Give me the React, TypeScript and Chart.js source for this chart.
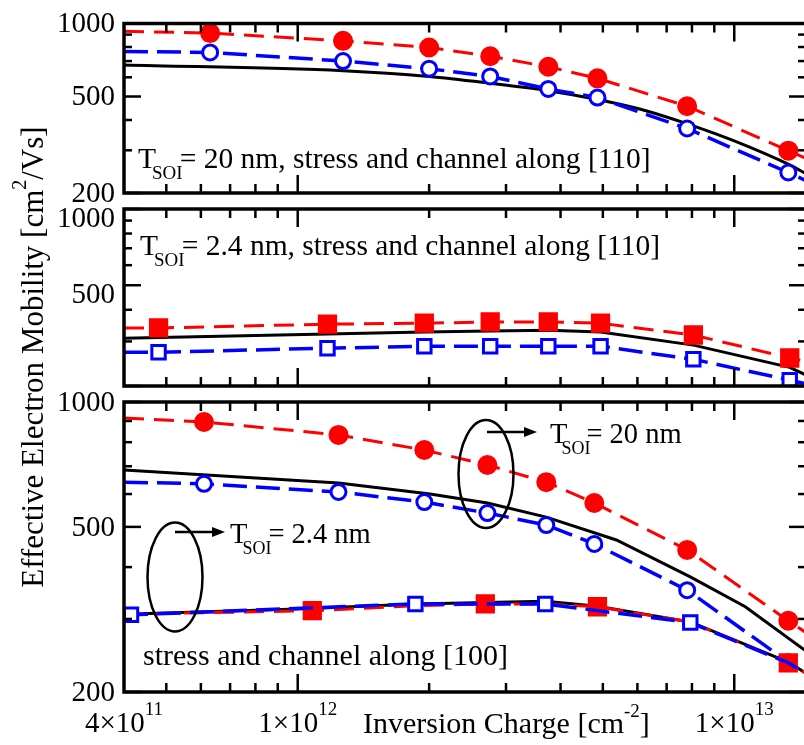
import React, { useEffect, useRef } from 'react';
import { Chart, registerables } from 'chart.js';
Chart.register(...registerables);

const FONT = '"Liberation Serif", "Times New Roman", Times, serif';
const X_MIN = 4e11;
const X_MAX = 1.46e13;
const X_MAJOR = [1e12, 1e13];
const X_MINOR = [5e11, 6e11, 7e11, 8e11, 9e11, 2e12, 3e12, 4e12, 5e12, 6e12, 7e12, 8e12, 9e12];
const X_LABELS = [
  { v: 4e11, m: '4\u00d710', e: '11' },
  { v: 1e12, m: '1\u00d710', e: '12' },
  { v: 1e13, m: '1\u00d710', e: '13' },
];
const Y_MAJOR = [200, 500, 1000];
const Y_MINOR = [300, 400, 600, 700, 800, 900];

// Panel (a): T_SOI = 20 nm, stress and channel along [110]
const a_mx = [4e11, 6.3e11, 1.27e12, 2.0e12, 2.76e12, 3.75e12, 4.86e12, 7.8e12, 1.33e13, 1.46e13];
const a_mk = [0, 1, 1, 1, 1, 1, 1, 1, 1, 0];
const a_red = [929, 913, 848, 796, 733, 663, 594, 456, 299, 278];
const a_blue = [767, 760, 700, 651, 605, 537, 495, 369, 243, 225];
const a_kx = [4e11, 1.27e12, 2.0e12, 2.76e12, 3.75e12, 4.86e12, 6.1e12, 7.9e12, 1.0e13, 1.34e13, 1.46e13];
const a_black = [675, 639, 605, 567, 528, 486, 443, 383, 328, 261, 240];

// Panel (b): T_SOI = 2.4 nm, stress and channel along [110]
const b_mx = [4e11, 4.8e11, 1.17e12, 1.95e12, 2.76e12, 3.75e12, 4.94e12, 8.06e12, 1.34e13, 1.46e13];
const b_mk = [0, 1, 1, 1, 1, 1, 1, 1, 1, 0];
const b_red = [339, 339, 351, 354, 358, 358, 354, 318, 258, 250];
const b_blue = [272, 272, 282, 287, 287, 287, 287, 255, 211, 204];
const b_kx = [4e11, 1.17e12, 1.95e12, 2.76e12, 3.75e12, 4.94e12, 8.06e12, 1.34e13, 1.46e13];
const b_black = [309, 321, 327, 330, 332, 327, 290, 237, 221];

// Panel (c): stress and channel along [100]
const c_mx20 = [4e11, 6.1e11, 1.24e12, 1.95e12, 2.72e12, 3.71e12, 4.78e12, 7.8e12, 1.33e13, 1.46e13];
const c_mk20 = [0, 1, 1, 1, 1, 1, 1, 1, 1, 0];
const c_red20 = [915, 895, 833, 766, 705, 641, 571, 440, 297, 278];
const c_blue20 = [641, 635, 607, 574, 540, 505, 455, 352, 236, 221];
const c_kx20 = [4e11, 1.24e12, 2.01e12, 2.72e12, 3.71e12, 5.37e12, 7.93e12, 1.06e13, 1.46e13];
const c_black20 = [686, 638, 600, 571, 528, 465, 379, 321, 251];
const c_rx24 = [4e11, 1.08e12, 1.86e12, 2.69e12, 3.69e12, 4.86e12, 7.93e12, 1.33e13, 1.46e13];
const c_rmk24 = [0, 1, 0, 1, 0, 1, 0, 1, 0];
const c_red24 = [308, 314, 323, 326, 326, 321, 295, 235, 222];
const c_ux24 = [4e11, 4.15e11, 1.86e12, 3.69e12, 7.93e12, 1.33e13, 1.46e13];
const c_umk24 = [0, 1, 1, 1, 1, 0, 0];
const c_blue24 = [307, 307, 326, 326, 294, 235, 222];
const c_kx24 = [4e11, 1.0e12, 1.86e12, 3.69e12, 4.86e12, 7.93e12, 1.33e13, 1.46e13];
const c_black24 = [308, 317, 326, 331, 322, 295, 236, 222];

const RED = '#ff0000';
const BLUE = '#0000ff';
const CW = 812;
const CH = 745;
const AREA_RIGHT = 806;
const TXT = 29.5;
const TXT_S = 28.5;

type Part = { t: string; s?: 'sup' | 'sub'; dx?: number };

function drawRich(ctx: CanvasRenderingContext2D, parts: Part[], x: number, y: number, size: number, align: 'left' | 'center', small = 19, raise = 16, drop = 11) {
  let w = 0;
  for (const p of parts) {
    ctx.font = `${p.s ? small : size}px ${FONT}`;
    w += (p.dx || 0) + ctx.measureText(p.t).width;
  }
  let cx = align === 'center' ? x - w / 2 : x;
  ctx.textAlign = 'left';
  ctx.textBaseline = 'alphabetic';
  for (const p of parts) {
    ctx.font = `${p.s ? small : size}px ${FONT}`;
    cx += p.dx || 0;
    const dy = p.s === 'sup' ? -raise : p.s === 'sub' ? drop : 0;
    ctx.fillText(p.t, cx, y + dy);
    cx += ctx.measureText(p.t).width;
  }
}

function ellipseArrow(ctx: CanvasRenderingContext2D, cx: number, cy: number, rx: number, ry: number, ax0: number, ax1: number, ay: number) {
  ctx.lineWidth = 2.5;
  ctx.strokeStyle = '#000';
  ctx.beginPath();
  ctx.ellipse(cx, cy, rx, ry, 0, 0, Math.PI * 2);
  ctx.stroke();
  ctx.beginPath();
  ctx.moveTo(ax0, ay);
  ctx.lineTo(ax1 - 10, ay);
  ctx.stroke();
  ctx.fillStyle = '#000';
  ctx.beginPath();
  ctx.moveTo(ax1, ay);
  ctx.lineTo(ax1 - 13, ay - 5);
  ctx.lineTo(ax1 - 13, ay + 5);
  ctx.closePath();
  ctx.fill();
}

const framePlugin = {
  id: 'frameTicks',
  afterDatasetsDraw(chart: any) {
    const { ctx, chartArea: a, scales } = chart;
    const x = scales.x;
    const y = scales.y;
    ctx.save();
    ctx.strokeStyle = '#000';
    ctx.lineWidth = 2.5;
    const seg = (x0: number, y0: number, x1: number, y1: number) => {
      ctx.beginPath();
      ctx.moveTo(x0, y0);
      ctx.lineTo(x1, y1);
      ctx.stroke();
    };
    const xt = [...X_MAJOR.map((v) => [v, 18]), ...X_MINOR.map((v) => [v, 9])];
    for (const [v, L] of xt) {
      const px = x.getPixelForValue(v);
      seg(px, a.bottom, px, a.bottom - L);
      seg(px, a.top, px, a.top + L);
    }
    const yt = [...Y_MAJOR.map((v) => [v, 17]), ...Y_MINOR.map((v) => [v, 8])];
    for (const [v, L] of yt) {
      const py = y.getPixelForValue(v);
      seg(a.left, py, a.left + L, py);
      seg(a.right, py, a.right - L, py);
    }
    ctx.lineWidth = 3.5;
    ctx.strokeRect(a.left, a.top, a.right - a.left, a.bottom - a.top);
    ctx.restore();
  },
};

function ds(name: string, xs: number[], ys: number[], opts: any) {
  const mk = opts.mk || xs.map(() => 0);
  const r = opts.radius || 0;
  return {
    label: name,
    data: xs.map((xv, i) => ({ x: xv, y: ys[i] })),
    borderColor: opts.color,
    borderWidth: opts.width,
    borderDash: opts.dash || [],
    tension: 0,
    cubicInterpolationMode: opts.smooth ? 'monotone' : 'default',
    pointStyle: opts.style || 'circle',
    pointRadius: mk.map((m: number) => (m ? r : 0)),
    pointBorderWidth: 3,
    pointBorderColor: opts.color,
    pointBackgroundColor: opts.filled ? opts.color : '#ffffff',
    fill: false,
  };
}

const RD = [20, 10];
const BD = [24, 9];

const panels = [
  {
    top: 17,
    bottom: 193,
    yLabels: [1000, 500, 200],
    labelOffset: 1,
    datasets: [
      ds('T=20nm [110] blue', a_mx, a_blue, { color: BLUE, width: 3.5, dash: BD, mk: a_mk, radius: 7.5 }),
      ds('T=20nm [110] red', a_mx, a_red, { color: RED, width: 3, dash: RD, mk: a_mk, radius: 8.5, filled: true }),
      ds('T=20nm [110] black', a_kx, a_black, { color: '#000', width: 3, smooth: true }),
    ],
    draw(ctx: CanvasRenderingContext2D, a: any) {
      drawRich(ctx, [{ t: 'T' }, { t: 'SOI', s: 'sub', dx: -4 }, { t: '= 20 nm, stress and channel along [110]', dx: -3 }], a.left + 14, a.top + 144, TXT, 'left');
    },
  },
  {
    top: 209,
    bottom: 386,
    yLabels: [1000, 500],
    labelOffset: 10,
    datasets: [
      ds('T=2.4nm [110] blue', b_mx, b_blue, { color: BLUE, width: 3.5, dash: BD, mk: b_mk, radius: 9.5, style: 'rect' }),
      ds('T=2.4nm [110] red', b_mx, b_red, { color: RED, width: 3, dash: RD, mk: b_mk, radius: 11.5, style: 'rect', filled: true }),
      ds('T=2.4nm [110] black', b_kx, b_black, { color: '#000', width: 3 }),
    ],
    draw(ctx: CanvasRenderingContext2D, a: any) {
      drawRich(ctx, [{ t: 'T' }, { t: 'SOI', s: 'sub', dx: -4 }, { t: '= 2.4 nm, stress and channel along [110]', dx: -3 }], a.left + 16, a.top + 46, TXT, 'left');
    },
  },
  {
    top: 402,
    bottom: 692,
    yLabels: [1000, 500, 200],
    labelOffset: 1,
    datasets: [
      ds('T=2.4nm [100] blue', c_ux24, c_blue24, { color: BLUE, width: 3.5, dash: BD, mk: c_umk24, radius: 9.5, style: 'rect' }),
      ds('T=2.4nm [100] red', c_rx24, c_red24, { color: RED, width: 3, dash: RD, mk: c_rmk24, radius: 11.5, style: 'rect', filled: true }),
      ds('T=20nm [100] blue', c_mx20, c_blue20, { color: BLUE, width: 3.5, dash: BD, mk: c_mk20, radius: 7.5 }),
      ds('T=20nm [100] red', c_mx20, c_red20, { color: RED, width: 3, dash: RD, mk: c_mk20, radius: 8.5, filled: true }),
      ds('T=20nm [100] black', c_kx20, c_black20, { color: '#000', width: 3 }),
      ds('T=2.4nm [100] black', c_kx24, c_black24, { color: '#000', width: 3 }),
    ],
    draw(ctx: CanvasRenderingContext2D, a: any, chart: any) {
      ctx.fillStyle = '#000';
      drawRich(ctx, [{ t: 'T' }, { t: 'SOI', s: 'sub', dx: -6 }, { t: '= 20 nm', dx: -4 }], 550, 443, TXT_S, 'left', 18);
      drawRich(ctx, [{ t: 'T' }, { t: 'SOI', s: 'sub', dx: -5 }, { t: '= 2.4 nm', dx: -3 }], 230, 543, TXT_S, 'left', 18);
      drawRich(ctx, [{ t: 'stress and channel along [100]' }], a.left + 19, 665, 30, 'left');
      ellipseArrow(ctx, 486, 474, 27.5, 54, 487, 537, 432);
      ellipseArrow(ctx, 175, 577, 27.5, 54.5, 175, 225, 532);
      const xs = chart.scales.x;
      for (const l of X_LABELS) {
        drawRich(ctx, [{ t: l.m }, { t: l.e, s: 'sup' }], xs.getPixelForValue(l.v), 732, 29, 'center', 19, 17);
      }
      drawRich(ctx, [{ t: 'Inversion Charge [cm' }, { t: '-2', s: 'sup' }, { t: ']' }], 363, 733, 30, 'left', 19, 16);
      ctx.save();
      ctx.translate(43, 357);
      ctx.rotate(-Math.PI / 2);
      drawRich(ctx, [{ t: 'Effective Electron Mobility [cm' }, { t: '2', s: 'sup' }, { t: '/Vs]' }], 0, 0, 31, 'center', 20, 17);
      ctx.restore();
    },
  },
];

function makeChart(canvas: HTMLCanvasElement, p: any) {
  const textPlugin = {
    id: 'panelText',
    afterDraw(chart: any) {
      const ctx = chart.ctx;
      ctx.save();
      ctx.fillStyle = '#000';
      p.draw(ctx, chart.chartArea, chart);
      ctx.restore();
    },
  };
  return new Chart(canvas, {
    type: 'line',
    data: { datasets: p.datasets },
    options: {
      responsive: false,
      animation: false,
      devicePixelRatio: 1,
      layout: { padding: { left: 0, right: CW - AREA_RIGHT, top: p.top, bottom: CH - p.bottom } },
      plugins: { legend: { display: false }, tooltip: { enabled: false }, title: { display: false } },
      scales: {
        x: { type: 'logarithmic', min: X_MIN, max: X_MAX, display: false },
        y: {
          type: 'logarithmic',
          min: 200,
          max: 1000,
          position: 'left',
          afterFit: (s: any) => {
            s.width = 124;
          },
          afterBuildTicks: (s: any) => {
            s.ticks = [...Y_MAJOR, ...Y_MINOR].sort((m, n) => m - n).map((v) => ({ value: v }));
          },
          grid: { display: false, drawTicks: false },
          border: { display: false },
          ticks: {
            autoSkip: false,
            padding: 9,
            color: '#000',
            labelOffset: p.labelOffset,
            font: { family: FONT, size: 29, lineHeight: 1 },
            callback: (v: any) => (p.yLabels.includes(Number(v)) ? String(v) : ''),
          },
        },
      },
    } as any,
    plugins: [framePlugin, textPlugin],
  } as any);
}

export default function App() {
  const r1 = useRef<HTMLCanvasElement>(null);
  const r2 = useRef<HTMLCanvasElement>(null);
  const r3 = useRef<HTMLCanvasElement>(null);
  useEffect(() => {
    const refs = [r1, r2, r3];
    const charts = refs.map((r, i) => makeChart(r.current as HTMLCanvasElement, panels[i]));
    return () => charts.forEach((c) => c.destroy());
  }, []);
  const cs: React.CSSProperties = { position: 'absolute', left: 0, top: 0 };
  return (
    <div style={{ position: 'fixed', left: 0, top: 0, width: 804, height: 745, overflow: 'hidden', background: '#fff' }}>
      <canvas ref={r1} width={CW} height={CH} style={cs} />
      <canvas ref={r2} width={CW} height={CH} style={cs} />
      <canvas ref={r3} width={CW} height={CH} style={cs} />
    </div>
  );
}
